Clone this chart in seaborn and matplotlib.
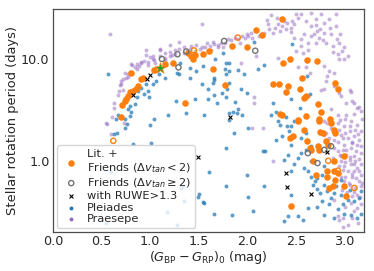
import matplotlib
matplotlib.use("Agg")
import matplotlib.pyplot as plt
from matplotlib.ticker import MultipleLocator, FixedLocator, FixedFormatter, LogLocator, NullFormatter
import seaborn as sns
import numpy as np

# ---------------- data ----------------
praesepe_color = [0.59, 1.53, 1.30, 1.10, 0.55, 0.56, 0.60, 0.73, 0.61, 0.63, 0.63, 0.67, 0.68, 0.72,
                  0.69, 0.70, 0.70, 0.72, 0.75, 0.77, 0.77, 0.74, 0.79, 0.86, 0.84, 0.88, 0.81, 0.80,
                  0.86, 0.91, 0.91, 0.94, 0.975, 1.00, 0.955, 1.03, 1.03, 1.04, 0.96, 1.10, 1.10, 1.15,
                  1.15, 1.20, 1.20, 1.20, 1.25, 1.25, 1.30, 1.35, 1.35, 1.41, 1.42, 1.46, 1.47, 1.51,
                  1.53, 1.56, 1.58, 1.61, 1.65, 1.66, 1.70, 1.70, 1.73, 1.77, 1.80, 1.83, 1.87, 1.90,
                  1.94, 1.97, 1.99, 2.01, 2.04, 2.09, 2.12, 2.17, 2.22, 2.28, 2.31, 2.36, 2.41, 2.46,
                  2.52, 2.55, 2.24, 2.21, 2.26, 2.33, 2.40, 2.45, 2.48, 2.60, 2.65, 2.70, 2.76, 2.79,
                  2.84, 2.91, 2.91, 2.65, 2.72, 2.79, 2.86, 2.74, 2.65, 2.58, 2.55, 2.62, 2.55, 2.50,
                  2.81, 2.88, 2.94, 2.99, 2.93, 2.94, 2.99, 2.52, 2.60, 2.64, 2.79, 2.84, 2.82, 2.89,
                  2.81, 2.79, 2.96, 3.13, 3.17, 3.01, 2.93, 2.86, 2.76, 2.31, 2.89, 2.48, 3.06, 3.10,
                  2.62, 2.09, 1.93, 2.07, 2.07,
                  2.16, 2.79, 2.86, 2.93, 2.99, 3.06, 3.13, 3.17, 2.96, 3.03, 3.10, 2.89, 2.99, 3.06,
                  3.13, 2.93, 3.01, 3.10, 3.17, 2.96, 3.06, 3.13, 3.03, 3.17, 3.08, 2.99, 3.13, 3.06,
                  3.17, 2.93, 3.03, 2.88, 2.94, 2.79, 2.89, 2.94, 2.26, 2.05,
                  2.89, 2.94, 2.98, 3.05, 3.11, 3.15, 3.08, 3.01, 2.96, 3.05, 3.11, 3.17, 2.99, 3.10,
                  3.15, 3.05, 3.11, 2.96, 3.17, 3.08, 3.13, 2.98, 3.08, 2.89, 2.84, 2.81, 2.82,
                  3.01, 3.08, 3.15, 2.94, 3.05,
                  2.70, 2.75, 2.68, 2.85, 2.95, 2.92, 2.78, 2.70, 2.88, 2.97, 3.03, 2.62, 2.57, 2.45,
                  2.38, 2.50, 2.30, 2.20, 1.15, 1.05, 0.98, 1.22, 1.38, 1.62, 1.75, 1.92, 2.05, 2.14,
                  2.95, 3.00, 3.10, 3.18, 3.05, 3.14, 3.00, 2.93, 3.08, 3.17, 2.98, 3.12, 3.05, 2.95,
                  3.15, 3.00, 3.10, 2.98, 3.07, 3.15, 3.00, 3.12, 3.04, 3.18, 2.97, 3.10, 3.02, 3.16,
                  3.00, 3.10, 3.14, 2.98]
praesepe_period = [17.2, 21.5, 14.5, 12.3, 2.34, 2.30, 1.84, 2.35, 2.67, 3.3, 3.7, 4.4, 4.85, 4.9,
                   5.5, 5.6, 6.1, 6.3, 6.5, 6.6, 7.0, 7.3, 7.4, 7.9, 8.2, 8.5, 8.6, 8.8,
                   8.9, 9.1, 9.3, 9.5, 9.3, 10.4, 10.8, 10.0, 10.6, 9.6, 12.0, 10.5, 12.2, 11.2,
                   10.2, 11.6, 10.6, 13.5, 12.0, 11.0, 12.5, 11.4, 12.8, 12.3, 13.2, 11.9, 13.5, 12.5,
                   13.0, 12.8, 14.0, 13.3, 14.5, 13.8, 13.5, 13.0, 14.3, 14.3, 15.4, 15.0, 16.0, 15.4,
                   16.6, 16.0, 17.2, 16.6, 17.9, 18.6, 16.6, 17.9, 19.3, 20.0, 21.5, 20.8, 22.4, 23.2,
                   25.0, 26.9, 26.4, 21.5, 17.9, 18.6, 19.3, 20.0, 21.5, 23.2, 28.0, 24.1, 26.9, 22.4,
                   24.1, 26.9, 20.8, 20.8, 18.6, 17.9, 17.2, 16.0, 16.6, 17.2, 15.4, 14.3, 13.3, 11.9,
                   14.3, 13.3, 14.3, 12.8, 11.0, 9.9, 9.9, 8.2, 8.2, 7.3, 8.5, 7.6, 6.8, 5.4,
                   6.1, 5.0, 4.3, 3.3, 3.1, 2.8, 2.8, 3.2, 4.9, 10.2, 7.3, 16.0, 4.7, 3.7,
                   4.3, 10.6, 9.0, 4.2, 3.7,
                   2.1, 2.44, 2.1, 2.35, 2.18, 2.44, 2.26, 1.95, 1.81, 1.68, 1.75, 1.62, 1.45, 1.35,
                   1.45, 1.25, 1.16, 1.12, 1.20, 1.00, 0.93, 0.86, 0.80, 0.74, 0.71, 0.64, 0.47, 0.39,
                   0.38, 0.29, 0.24, 1.08, 0.89, 1.81, 0.42, 0.27, 1.00, 2.1,
                   1.95, 2.03, 1.68, 1.95, 2.03, 1.62, 1.50, 1.30, 1.12, 1.03, 1.00, 0.93, 0.89, 0.80,
                   0.64, 0.59, 0.55, 0.71, 0.57, 0.46, 0.35, 0.28, 0.28, 1.35, 1.68, 1.88, 2.35,
                   3.66, 3.9, 3.4, 4.6, 4.9,
                   21.0, 19.5, 17.5, 20.0, 17.5, 15.5, 15.0, 14.0, 11.5, 11.8, 10.5, 12.0, 11.2, 18.0,
                   23.0, 27.0, 25.0, 23.5, 9.6, 9.0, 8.6, 10.9, 11.9, 12.2, 13.0, 14.2, 15.8, 17.3,
                   2.5, 2.6, 2.9, 2.6, 2.2, 1.85, 1.9, 1.55, 1.55, 1.4, 1.3, 1.25, 1.1, 1.15,
                   1.05, 0.98, 0.95, 0.82, 0.76, 0.8, 0.7, 0.68, 0.62, 0.62, 0.52, 0.5, 0.5, 0.45,
                   0.36, 0.33, 0.25, 0.23]

pleiades_color = [0.57, 0.96, 0.91, 0.87, 0.98, 0.94, 0.99, 0.86, 0.84, 0.79, 0.77, 0.80, 0.67, 0.65,
                  0.79, 0.74, 0.76, 0.74, 0.66, 0.63, 0.82, 1.01, 1.00, 1.04, 1.18, 1.27, 1.03, 1.06,
                  1.09, 1.15, 1.28, 1.30, 1.31, 0.60, 0.54, 1.17,
                  2.07, 1.75, 1.67, 1.78, 1.81, 1.54, 1.77, 1.81, 1.78, 1.41, 1.47, 1.41, 1.90, 1.96,
                  1.66, 1.66, 1.65, 1.53, 1.59, 1.81, 1.79, 1.93, 1.99, 1.66, 1.74, 1.78, 1.59, 1.46,
                  1.87, 1.90, 1.85, 1.81, 1.89, 1.94, 1.69, 1.37, 1.55,
                  1.81, 1.86, 2.01, 1.78, 1.60, 1.99, 1.34, 1.32, 1.78, 1.50, 1.49, 2.01, 1.35, 1.54,
                  1.55, 2.06, 1.66, 1.84, 1.28,
                  2.46, 2.17, 2.11, 2.61, 2.64, 2.45, 2.26, 2.29, 2.24, 2.40, 2.54,
                  2.33, 2.45, 2.41, 2.16, 2.18, 2.38, 2.42, 2.48, 2.45, 2.58, 2.62, 2.65, 2.69, 2.72,
                  2.17, 2.45, 2.62, 2.72, 2.52, 2.42, 2.38, 2.57, 2.79, 2.89, 2.93, 2.99, 3.06, 3.13,
                  3.17, 2.98, 3.03, 3.10, 3.15, 2.96, 2.89, 2.82, 2.75, 2.86, 3.05, 3.17, 2.91, 2.79,
                  2.67, 2.72, 2.77, 2.79, 2.65, 2.52, 2.55, 2.60, 2.65, 2.45, 2.55, 2.60, 2.36, 2.31,
                  2.48, 2.43, 2.29, 2.96, 2.77, 2.84]
pleiades_period = [7.0, 5.6, 5.2, 4.85, 4.85, 4.5, 4.2, 4.2, 3.6, 3.47, 3.2, 3.0, 2.8, 2.57,
                   2.76, 2.57, 2.3, 2.1, 1.88, 1.84, 1.48, 1.5, 2.25, 2.57, 2.8, 3.9, 5.6, 6.0,
                   7.0, 6.4, 7.3, 7.0, 9.0, 0.79, 0.25, 0.32,
                   14.5, 11.3, 9.9, 9.1, 9.1, 8.4, 7.9, 7.6, 7.0, 8.0, 7.5, 6.5, 7.8, 7.0,
                   6.5, 6.2, 5.8, 5.6, 5.0, 5.8, 5.0, 5.0, 4.6, 4.4, 4.6, 4.2, 4.0, 4.0,
                   3.8, 3.2, 3.0, 2.95, 2.95, 2.8, 3.66, 2.97, 2.8,
                   2.5, 1.9, 2.1, 1.36, 0.79, 0.74, 0.57, 0.55, 0.58, 0.48, 0.45, 0.45, 0.41, 0.40,
                   0.39, 0.33, 0.31, 0.30, 0.24,
                   13.8, 8.6, 7.9, 6.8, 4.5, 4.0, 3.7, 3.0, 2.8, 2.7, 3.3,
                   2.26, 2.18, 2.2, 1.25, 1.26, 1.03, 1.16, 0.93, 0.80, 0.86, 0.80, 0.71, 0.64, 0.54,
                   0.57, 0.47, 0.35, 0.36, 0.29, 0.29, 0.26, 0.27, 0.30, 0.28, 0.34, 0.31, 0.30, 0.28,
                   0.31, 0.38, 0.42, 0.41, 0.44, 0.47, 0.49, 0.51, 0.49, 0.44, 0.53, 0.51, 0.57, 0.59,
                   0.59, 0.69, 0.74, 0.89, 1.00, 1.08, 1.20, 1.30, 1.40, 1.45, 1.68, 1.88, 1.75, 2.48,
                   2.44, 1.95, 1.62, 0.66, 0.41, 0.38]

lit_color = [2.36, 2.09, 2.15, 1.84, 2.00, 1.60, 1.54, 1.46, 1.39, 1.42, 1.44, 1.235, 1.15, 1.04,
             2.37, 2.44, 2.61, 2.72, 2.56, 2.26, 2.32, 2.42, 2.40, 2.54, 2.60, 2.58, 2.90, 2.93,
             2.73, 2.755, 2.33, 2.36, 2.52, 2.60, 2.74, 2.85, 1.65, 1.77, 1.36,
             0.80, 0.91, 0.93, 0.85, 0.82, 0.87, 0.79, 0.77, 0.75, 0.74, 0.71, 0.70,
             2.52, 2.74, 2.86, 2.89, 2.58, 2.44, 2.47, 2.61, 2.75, 2.78, 2.90, 2.64, 2.65, 2.73,
             2.74, 2.81, 2.83, 2.67, 2.89, 2.99, 2.82, 2.70, 2.82, 2.90, 2.89, 2.88, 2.84, 2.99,
             3.01, 2.45, 2.93]
lit_period = [24.4, 18.8, 16.9, 13.2, 13.0, 11.9, 11.0, 10.8, 11.2, 10.6, 10.0, 9.1, 8.8, 7.7,
              9.0, 10.0, 9.7, 9.4, 6.4, 5.7, 5.7, 5.35, 4.7, 5.0, 4.3, 4.1, 5.75, 5.1,
              3.6, 3.0, 2.88, 2.82, 2.54, 2.73, 2.58, 2.6, 7.9, 5.5, 3.66,
              7.2, 6.3, 6.5, 5.1, 4.85, 5.35, 4.7, 4.3, 4.0, 3.9, 3.5, 2.7,
              2.44, 2.48, 2.35, 2.03, 2.03, 1.68, 1.75, 1.59, 1.92, 1.90, 1.88, 1.36, 1.29, 1.40,
              1.30, 1.56, 1.45, 1.01, 1.01, 1.12, 0.80, 0.74, 0.71, 0.66, 0.80, 0.57, 0.55, 0.57,
              0.46, 0.37, 0.77]

friends_color = [1.12, 1.28, 1.37, 1.76, 1.29, 2.08, 2.62, 2.86, 2.72, 2.79]
friends_period = [9.9, 11.0, 11.7, 14.8, 8.2, 11.9, 1.2, 1.40, 0.96, 1.29]

ruwe_color = [0.97, 1.00, 0.82, 1.82, 1.49, 2.40, 2.41, 2.65, 2.82]
ruwe_period = [6.3, 6.9, 4.4, 2.7, 1.10, 0.77, 0.56, 0.48, 1.23]

open_color = [0.62, 1.90, 1.45, 2.83, 2.93, 3.10]
open_period = [1.58, 16.0, 12.0, 1.01, 0.81, 0.55]

star_color = [1.10]
star_period = [8.1]

# ---------------- plot ----------------
sns.set_style("white")
plt.rcParams["font.family"] = ["DejaVu Sans"]
plt.rcParams["mathtext.fontset"] = "dejavusans"

fig = plt.figure(figsize=(3.74, 2.71), dpi=100)
ax = fig.add_axes([0.1417, 0.144, 0.832, 0.821])

sns.scatterplot(x=praesepe_color, y=praesepe_period, ax=ax, color="#9467bd", alpha=0.5,
                s=8, linewidth=0, label="Praesepe", zorder=1)
sns.scatterplot(x=pleiades_color, y=pleiades_period, ax=ax, color="#1f77b4", alpha=0.72,
                s=8, linewidth=0, label="Pleiades", zorder=2)
sns.scatterplot(x=lit_color, y=lit_period, ax=ax, color="#ff7f0e", s=22, linewidth=0,
                label="Lit. +\nFriends ($\\Delta v_{tan} < 2$)", zorder=4)
sns.scatterplot(x=open_color, y=open_period, ax=ax, marker="o", s=14, facecolors="none",
                edgecolor="#ff7f0e", linewidth=1.0, zorder=4)
sns.scatterplot(x=friends_color, y=friends_period, ax=ax, marker="o", s=14, facecolors="none",
                edgecolor="0.45", linewidth=1.0, label="Friends ($\\Delta v_{tan} \\geq 2$)", zorder=5)
sns.scatterplot(x=ruwe_color, y=ruwe_period, ax=ax, marker="x", s=8, color="k", linewidth=0.8,
                label="with RUWE>1.3", zorder=6)
sns.scatterplot(x=star_color, y=star_period, ax=ax, marker="*", s=70, color="#2ca02c",
                edgecolor="#ff7f0e", linewidth=0.5, zorder=7)

ax.set_yscale("log")
ax.set_xlim(0, 3.2)
ax.set_ylim(0.205, 30)
ax.yaxis.set_major_locator(FixedLocator([1, 10]))
ax.yaxis.set_major_formatter(FixedFormatter(["1.0", "10.0"]))
ax.yaxis.set_minor_locator(LogLocator(base=10, subs=np.arange(2, 10)))
ax.yaxis.set_minor_formatter(NullFormatter())
ax.xaxis.set_major_locator(MultipleLocator(0.5))
ax.xaxis.set_minor_locator(MultipleLocator(0.1))
ax.xaxis.set_major_formatter(matplotlib.ticker.FormatStrFormatter("%.1f"))

ax.tick_params(which="both", direction="in", labelsize=9.2, colors="0.15", pad=2.5)
ax.tick_params(which="major", length=4, width=0.8)
ax.tick_params(which="minor", length=2, width=0.6)
for sp in ax.spines.values():
    sp.set_color("0.3")
    sp.set_linewidth(0.9)

ax.set_xlabel("$(G_{\\rm BP} - G_{\\rm RP})_0$ (mag)", fontsize=9.2, labelpad=0.5)
ax.set_ylabel("Stellar rotation period (days)", fontsize=9.4, labelpad=1.5)

h, l = ax.get_legend_handles_labels()
order = [l.index(n) for n in ["Lit. +\nFriends ($\\Delta v_{tan} < 2$)",
                              "Friends ($\\Delta v_{tan} \\geq 2$)",
                              "with RUWE>1.3", "Pleiades", "Praesepe"]]
leg = ax.legend([h[i] for i in order], [l[i] for i in order], loc="lower left",
                fontsize=8.2, labelspacing=0.12, handletextpad=0.5, borderpad=0.35,
                handlelength=1.8, borderaxespad=0.35,
                frameon=True, framealpha=0.8, edgecolor="0.8", fancybox=True)
for lh in leg.legend_handles:
    try:
        lh.set_alpha(None)
    except Exception:
        pass

fig.savefig("out.png", dpi=100)
